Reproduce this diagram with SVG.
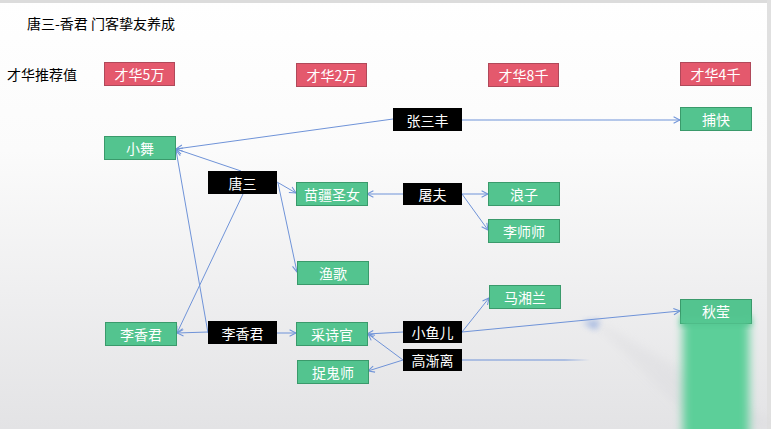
<svg xmlns="http://www.w3.org/2000/svg" width="771" height="429" viewBox="0 0 771 429">
<defs>
<linearGradient id="bg" x1="0" y1="0" x2="0" y2="1">
<stop offset="0" stop-color="#ffffff"/>
<stop offset="0.35" stop-color="#fbfbfb"/>
<stop offset="1" stop-color="#e3e3e5"/>
</linearGradient>
<linearGradient id="fade" x1="0" y1="0" x2="1" y2="0">
<stop offset="0" stop-color="#6f93d8" stop-opacity="1"/>
<stop offset="0.8" stop-color="#6f93d8" stop-opacity="1"/>
<stop offset="1" stop-color="#6f93d8" stop-opacity="0"/>
</linearGradient>
<filter id="blur" x="-50%" y="-20%" width="200%" height="140%"><feGaussianBlur stdDeviation="5"/></filter>
<filter id="blur2" x="-50%" y="-50%" width="200%" height="200%"><feGaussianBlur stdDeviation="3"/></filter>
<marker id="arr" viewBox="0 0 10 10" refX="9" refY="5" markerWidth="8" markerHeight="8" markerUnits="userSpaceOnUse" orient="auto">
<path d="M1,1 L9,5 L1,9" fill="none" stroke="#6f93d8" stroke-width="1.3"/>
</marker>
<style>
text{font-family:"Microsoft YaHei","Noto Sans CJK SC","Noto Sans",sans-serif;}
.lbl{font-size:14px;fill:#ffffff;text-anchor:middle;dominant-baseline:central;}
.red{fill:#e4596d;stroke:#b0495a;stroke-width:1;}
.grn{fill:#53c48f;stroke:#3a9a6b;stroke-width:1;}
.blk{fill:#000000;}
.ln{fill:none;stroke:#6f93d8;stroke-width:1;}
.ar{marker-end:url(#arr);}
</style>
</defs>
<rect x="0" y="0" width="771" height="429" fill="url(#bg)"/>
<rect x="0" y="0" width="771" height="3" fill="#dcdcdc"/>
<rect x="767" y="0" width="4" height="429" fill="#e0e0e0"/>
<polygon points="590,318 771,420 771,429 700,429" fill="#d8d8dc" opacity="0.35" filter="url(#blur)"/>
<polygon points="582,322 600,320 596,330" fill="#6f93d8" opacity="0.6" filter="url(#blur2)"/>
<text x="27" y="29" font-size="14" fill="#000">唐三-香君 门客挚友养成</text>
<text x="7" y="80" font-size="14" fill="#000">才华推荐值</text>

<g id="connectors">
<line class="ln ar" x1="393" y1="119" x2="176" y2="149"/>
<line class="ln ar" x1="462" y1="120" x2="680" y2="120"/>
<line class="ln ar" x1="241" y1="171" x2="176" y2="149"/>
<line class="ln ar" x1="277" y1="182" x2="296" y2="193"/>
<line class="ln ar" x1="278" y1="183" x2="297" y2="272"/>
<line class="ln ar" x1="243" y1="194" x2="177" y2="333"/>
<line class="ln ar" x1="208" y1="333" x2="176" y2="150"/>
<line class="ln ar" x1="208" y1="332" x2="177" y2="333"/>
<line class="ln ar" x1="277" y1="333" x2="296" y2="333"/>
<line class="ln ar" x1="403" y1="194" x2="367" y2="194"/>
<line class="ln ar" x1="462" y1="194" x2="488" y2="194"/>
<line class="ln ar" x1="462" y1="194" x2="488" y2="230"/>
<line class="ln ar" x1="403" y1="332" x2="367" y2="334"/>
<line class="ln ar" x1="462" y1="332" x2="489" y2="298"/>
<line class="ln ar" x1="462" y1="332" x2="680" y2="311"/>
<line class="ln ar" x1="403" y1="360" x2="368" y2="334"/>
<line class="ln ar" x1="403" y1="360" x2="368" y2="371"/>
<rect x="462" y="359.5" width="128" height="1" fill="url(#fade)"/>
</g>

<g id="n-5wan"><rect class="red" x="104.5" y="62.5" width="70" height="23"/><text class="lbl" x="139.5" y="74">才华5万</text></g>
<g id="n-2wan"><rect class="red" x="296.5" y="63.5" width="70" height="23"/><text class="lbl" x="331.5" y="75">才华2万</text></g>
<g id="n-8qian"><rect class="red" x="488.5" y="63.5" width="70" height="23"/><text class="lbl" x="523.5" y="75">才华8千</text></g>
<g id="n-4qian"><rect class="red" x="680.5" y="62.5" width="70" height="23"/><text class="lbl" x="715.5" y="74">才华4千</text></g>

<g id="n-xiaowu"><rect class="grn" x="104.5" y="136.5" width="71" height="23"/><text class="lbl" x="140" y="148">小舞</text></g>
<g id="n-miaojiang"><rect class="grn" x="296.5" y="182.5" width="71" height="23"/><text class="lbl" x="332" y="194">苗疆圣女</text></g>
<g id="n-yuge"><rect class="grn" x="297.5" y="261.5" width="71" height="23"/><text class="lbl" x="333" y="273">渔歌</text></g>
<g id="n-caishi"><rect class="grn" x="296.5" y="322.5" width="71" height="23"/><text class="lbl" x="332" y="334">采诗官</text></g>
<g id="n-zhuogui"><rect class="grn" x="297.5" y="360.5" width="71" height="23"/><text class="lbl" x="333" y="372">捉鬼师</text></g>
<g id="n-lixiangjun-l"><rect class="grn" x="105.5" y="322.5" width="71" height="23"/><text class="lbl" x="141" y="334">李香君</text></g>
<g id="n-langzi"><rect class="grn" x="488.5" y="182.5" width="71" height="23"/><text class="lbl" x="524" y="194">浪子</text></g>
<g id="n-lishishi"><rect class="grn" x="488.5" y="219.5" width="71" height="23"/><text class="lbl" x="524" y="231">李师师</text></g>
<g id="n-maxianglan"><rect class="grn" x="489.5" y="285.5" width="71" height="23"/><text class="lbl" x="525" y="297">马湘兰</text></g>
<g id="n-bukuai"><rect class="grn" x="680.5" y="107.5" width="71" height="23"/><text class="lbl" x="716" y="119">捕快</text></g>
<g id="n-qiuying">
<rect x="683" y="314" width="66" height="130" fill="#5ccf99" filter="url(#blur)"/>
<rect class="grn" x="680.5" y="299.5" width="71" height="24"/>
<rect x="681" y="318" width="70" height="8" fill="#55c792" filter="url(#blur2)"/>
<text class="lbl" x="716" y="311">秋莹</text></g>

<g id="n-zhangsanfeng"><rect class="blk" x="393" y="108" width="69" height="23"/><text class="lbl" x="427.5" y="119.5">张三丰</text></g>
<g id="n-tangsan"><rect class="blk" x="208" y="171" width="69" height="23"/><text class="lbl" x="242.5" y="182.5">唐三</text></g>
<g id="n-tufu"><rect class="blk" x="403" y="183" width="59" height="22"/><text class="lbl" x="432.5" y="194">屠夫</text></g>
<g id="n-lixiangjun-m"><rect class="blk" x="208" y="321" width="69" height="23"/><text class="lbl" x="242.5" y="332.5">李香君</text></g>
<g id="n-xiaoyuer"><rect class="blk" x="403" y="321" width="59" height="22"/><text class="lbl" x="432.5" y="332">小鱼儿</text></g>
<g id="n-gaojianli"><rect class="blk" x="403" y="349" width="59" height="22"/><text class="lbl" x="432.5" y="360">高渐离</text></g>
</svg>
